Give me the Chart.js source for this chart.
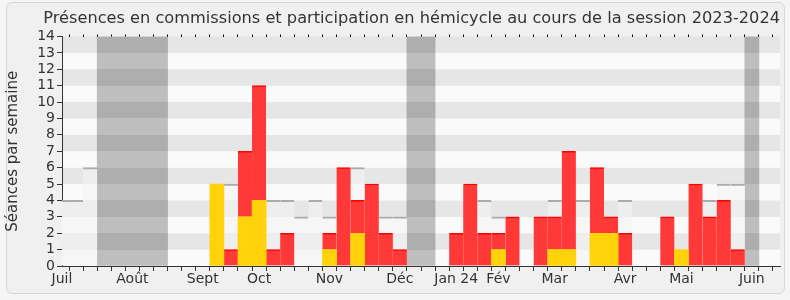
<!DOCTYPE html>
<html lang="fr">
<head>
<meta charset="utf-8">
<title>Présences</title>
<script src="https://cdn.jsdelivr.net/npm/chart.js@4.4.1/dist/chart.umd.min.js"></script>
<style>
  html, body { margin: 0; padding: 0; background: #f5f5f5; }
  #cadre {
    position: absolute; left: 6px; top: 2px; width: 777px; height: 290px;
    border: 1px solid #d8d8d8; border-radius: 6px; background: #f0f0f0;
  }
  #zone { position: absolute; left: 0; top: 0; width: 790px; height: 300px; }
</style>
</head>
<body>
<div id="cadre"></div>
<div id="zone"><canvas id="graphique" width="790" height="300"></canvas></div>
<script>
// Une valeur par semaine (52 semaines, juillet 2023 -> juin 2024)
const n = null;

// Semaines de vacances parlementaires (bande grise sur toute la hauteur)
const vacances = [
  n, n, n, 14, 14, 14, 14, 14, n, n, n, n, n,
  n, n, n, n, n, n, n, n, n, n, n, n, 14,
  14, n, n, n, n, n, n, n, n, n, n, n, n,
  n, n, n, n, n, n, n, n, n, n, 14, n, n
];

// Présence médiane des députés
const mediane = [
  4, 4, 6, n, n, n, n, n, n, n, n, n, 5,
  5, n, 4, 4, 3, 4, 3, n, 6, n, 3, 3, n,
  n, n, n, n, 4, 3, n, n, n, 4, n, 4, n,
  n, 4, n, n, n, n, n, 4, 5, 5, n, n, n
];

// Présences en commission
const commission = [
  n, n, n, n, n, n, n, n, n, n, n, 5, n,
  3, 4, n, n, n, n, 1, n, 2, n, n, n, n,
  n, n, n, n, n, 1, n, n, n, 1, 1, n, 2,
  2, n, n, n, n, 1, n, n, n, n, n, n, n
];

// Participation en hémicycle (empilée sur les commissions)
const hemicycle = [
  n, n, n, n, n, n, n, n, n, n, n, n, 1,
  4, 7, 1, 2, n, n, 1, 6, 2, 5, 2, 1, n,
  n, n, 2, 5, 2, 1, 3, n, 3, 2, 6, n, 4,
  1, 2, n, n, 3, n, 5, 3, 4, 1, n, n, n
];

// Libellés des mois et semaine où ils sont posés
const mois = ['Juil', 'Août', 'Sept', 'Oct', 'Nov', 'Déc', 'Jan 24', 'Fév', 'Mar', 'Avr', 'Mai', 'Juin'];
const moisSemaine = [0, 5, 10, 14, 19, 24, 28, 31, 35, 40, 44, 49];

const labels = vacances.map(() => '');
moisSemaine.forEach((s, i) => { labels[s] = mois[i]; });

const police = 'DejaVu Sans';
const gris = '#333333';

// Dégradé "à marches" qui suit les bandes horizontales (clair / foncé)
function degradeBandes(chart, clair, fonce) {
  const y = chart.scales.y;
  if (!chart.chartArea || !y) return clair;
  const bas = y.getPixelForValue(0);
  const haut = y.getPixelForValue(14);
  const g = chart.ctx.createLinearGradient(0, bas, 0, haut);
  for (let v = 0; v < 14; v++) {
    const c = (v % 2 === 1) ? fonce : clair;
    g.addColorStop(v / 14, c);
    g.addColorStop((v + 1) / 14, c);
  }
  return g;
}

// Bandes horizontales alternées derrière le graphique
const bandes = {
  id: 'bandes',
  beforeDraw(chart) {
    const { ctx, chartArea, scales } = chart;
    const y = scales.y;
    ctx.save();
    for (let v = 0; v < 14; v++) {
      const haut = y.getPixelForValue(v + 1);
      const bas = y.getPixelForValue(v);
      ctx.fillStyle = (v % 2 === 1) ? '#e6e6e6' : '#fafafa';
      ctx.fillRect(chartArea.left, haut, chartArea.right - chartArea.left, bas - haut);
    }
    ctx.restore();
  }
};

const barresCommunes = {
  barPercentage: 1,
  categoryPercentage: 1,
  grouped: false
};

new Chart(document.getElementById('graphique'), {
  type: 'bar',
  data: {
    labels: labels,
    datasets: [
      Object.assign({
        label: 'Présences en commission',
        data: commission,
        stack: 'presence',
        order: 1,
        backgroundColor: 'rgb(255, 210, 10)'
      }, barresCommunes),
      Object.assign({
        label: 'Participation en hémicycle',
        data: hemicycle,
        stack: 'presence',
        order: 1,
        backgroundColor: 'rgb(255, 56, 56)',
        borderColor: 'rgb(255, 0, 0)',
        borderWidth: { top: 1.5 }
      }, barresCommunes),
      Object.assign({
        label: 'Présence médiane',
        data: mediane,
        stack: 'mediane',
        order: 3,
        backgroundColor: (c) => degradeBandes(c.chart, 'rgb(246, 246, 246)', 'rgb(238, 238, 238)'),
        borderColor: 'rgb(170, 170, 170)',
        borderWidth: { top: 2 }
      }, barresCommunes),
      Object.assign({
        label: 'Vacances',
        data: vacances,
        stack: 'vacances',
        order: 4,
        backgroundColor: (c) => degradeBandes(c.chart, 'rgb(190, 190, 190)', 'rgb(174, 174, 174)')
      }, barresCommunes)
    ]
  },
  options: {
    responsive: false,
    animation: false,
    layout: { padding: { left: 0, right: 10, top: 0, bottom: 0 } },
    plugins: {
      legend: { display: false },
      tooltip: { enabled: false },
      title: {
        display: true,
        text: 'Présences en commissions et participation en hémicycle au cours de la session 2023-2024',
        align: 'end',
        color: gris,
        font: { family: police, size: 16.2, weight: 'normal' },
        padding: { top: 9, bottom: 4.56 }
      }
    },
    scales: {
      x: {
        type: 'category',
        position: 'bottom',
        offset: false,
        grid: { drawOnChartArea: false, tickLength: 5, tickColor: gris },
        border: { color: gris },
        ticks: {
          autoSkip: false, maxRotation: 0, minRotation: 0, padding: 0,
          color: gris, font: { family: police, size: 14 }
        },
        afterFit(s) { s.height = 34; }
      },
      xHaut: {
        type: 'category',
        position: 'top',
        offset: false,
        grid: { drawOnChartArea: false, tickLength: 2, tickColor: '#000' },
        border: { display: false },
        ticks: { display: false },
        afterFit(s) { s.height = 3.5; }
      },
      y: {
        min: 0,
        max: 14,
        stacked: true,
        grid: { drawOnChartArea: false, tickLength: 5, tickColor: gris },
        border: { color: gris },
        ticks: {
          stepSize: 1, padding: 2, autoSkip: false,
          color: gris, font: { family: police, size: 14 }
        },
        title: {
          display: true,
          text: 'Séances par semaine',
          color: gris,
          font: { family: police, size: 15 },
          padding: { top: 4, bottom: 0 }
        },
        afterFit(s) { s.width = 62; }
      }
    }
  },
  plugins: [bandes]
});
</script>
</body>
</html>
